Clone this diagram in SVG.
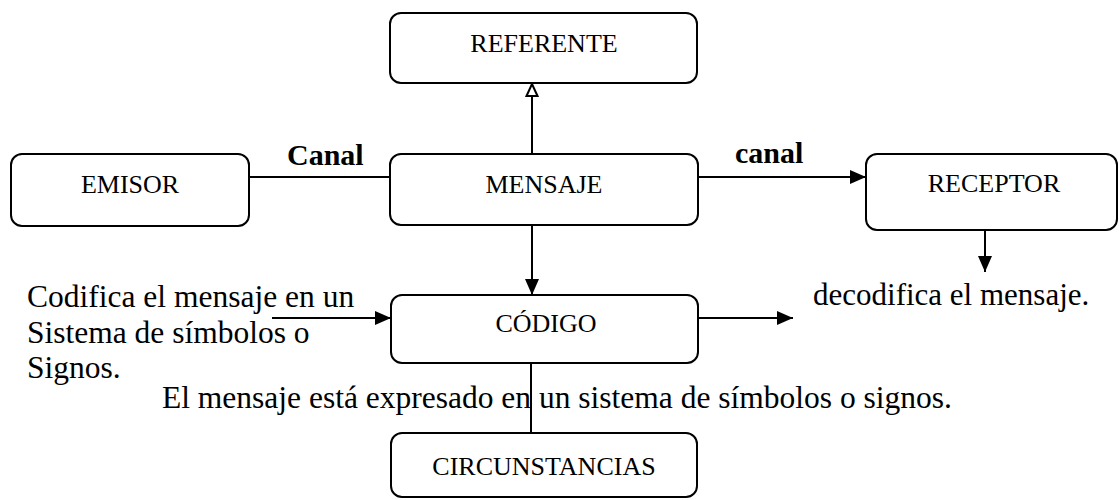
<svg xmlns="http://www.w3.org/2000/svg" width="1119" height="500" viewBox="0 0 1119 500">
<defs>
<style>
.box{fill:#fff;stroke:#000;stroke-width:2}
.lbl{font-family:"Liberation Serif","Times New Roman",serif;font-size:26px;fill:#000;text-anchor:middle}
.txt{font-family:"Liberation Serif","Times New Roman",serif;font-size:31.5px;fill:#000}
.bold{font-family:"Liberation Serif","Times New Roman",serif;font-size:30px;font-weight:bold;fill:#000}
.ln{stroke:#000;stroke-width:2;fill:none}
</style>
<marker id="ah" viewBox="0 0 16 14" refX="16" refY="7" markerWidth="16" markerHeight="14" markerUnits="userSpaceOnUse" orient="auto">
<path d="M0,0 L16,7 L0,14 Z" fill="#000"/>
</marker>
<marker id="ahOpen" viewBox="0 0 14 14" refX="13" refY="7" markerWidth="14" markerHeight="14" markerUnits="userSpaceOnUse" orient="auto">
<path d="M1,1.5 L13,7 L1,12.5 Z" fill="#fff" stroke="#000" stroke-width="2"/>
</marker>
</defs>
<rect width="1119" height="500" fill="#fff"/>
<g id="connectors">
<line class="ln" x1="532" y1="154" x2="532" y2="84" marker-end="url(#ahOpen)"/>
<line class="ln" x1="249" y1="177" x2="390" y2="177"/>
<line class="ln" x1="698" y1="177" x2="866" y2="177" marker-end="url(#ah)"/>
<line class="ln" x1="985" y1="230" x2="985" y2="272" marker-end="url(#ah)"/>
<line class="ln" x1="532" y1="225" x2="532" y2="295" marker-end="url(#ah)"/>
<line class="ln" x1="272" y1="318" x2="391" y2="318" marker-end="url(#ah)"/>
<line class="ln" x1="698" y1="318" x2="793" y2="318" marker-end="url(#ah)"/>
<line class="ln" x1="531" y1="363" x2="531" y2="433"/>
</g>
<g id="referente"><rect class="box" x="390" y="13" width="307" height="70" rx="11"/><text class="lbl" x="544" y="52">REFERENTE</text></g>
<g id="emisor"><rect class="box" x="11" y="154" width="238" height="72" rx="11"/><text class="lbl" x="130" y="193">EMISOR</text></g>
<g id="mensaje"><rect class="box" x="390" y="154" width="308" height="71" rx="11"/><text class="lbl" x="544" y="193">MENSAJE</text></g>
<g id="receptor"><rect class="box" x="866" y="154" width="251" height="76" rx="11"/><text class="lbl" x="994" y="192">RECEPTOR</text></g>
<g id="codigo"><rect class="box" x="391" y="295" width="307" height="68" rx="11"/><text class="lbl" x="546" y="332">CÓDIGO</text></g>
<g id="circunstancias"><rect class="box" x="391" y="433" width="306" height="64" rx="11"/><text class="lbl" x="544" y="475">CIRCUNSTANCIAS</text></g>
<g id="labels">
<text class="bold" x="287" y="165">Canal</text>
<text class="bold" x="735" y="163">canal</text>
<text class="txt" x="27" y="307">Codifica el mensaje en un</text>
<text class="txt" x="27" y="343">Sistema de símbolos o</text>
<text class="txt" x="27" y="378">Signos.</text>
<text class="txt" x="813" y="305" style="font-size:31px">decodifica el mensaje.</text>
<text class="txt" x="162" y="408">El mensaje está expresado en un sistema de símbolos o signos.</text>
</g>
</svg>
